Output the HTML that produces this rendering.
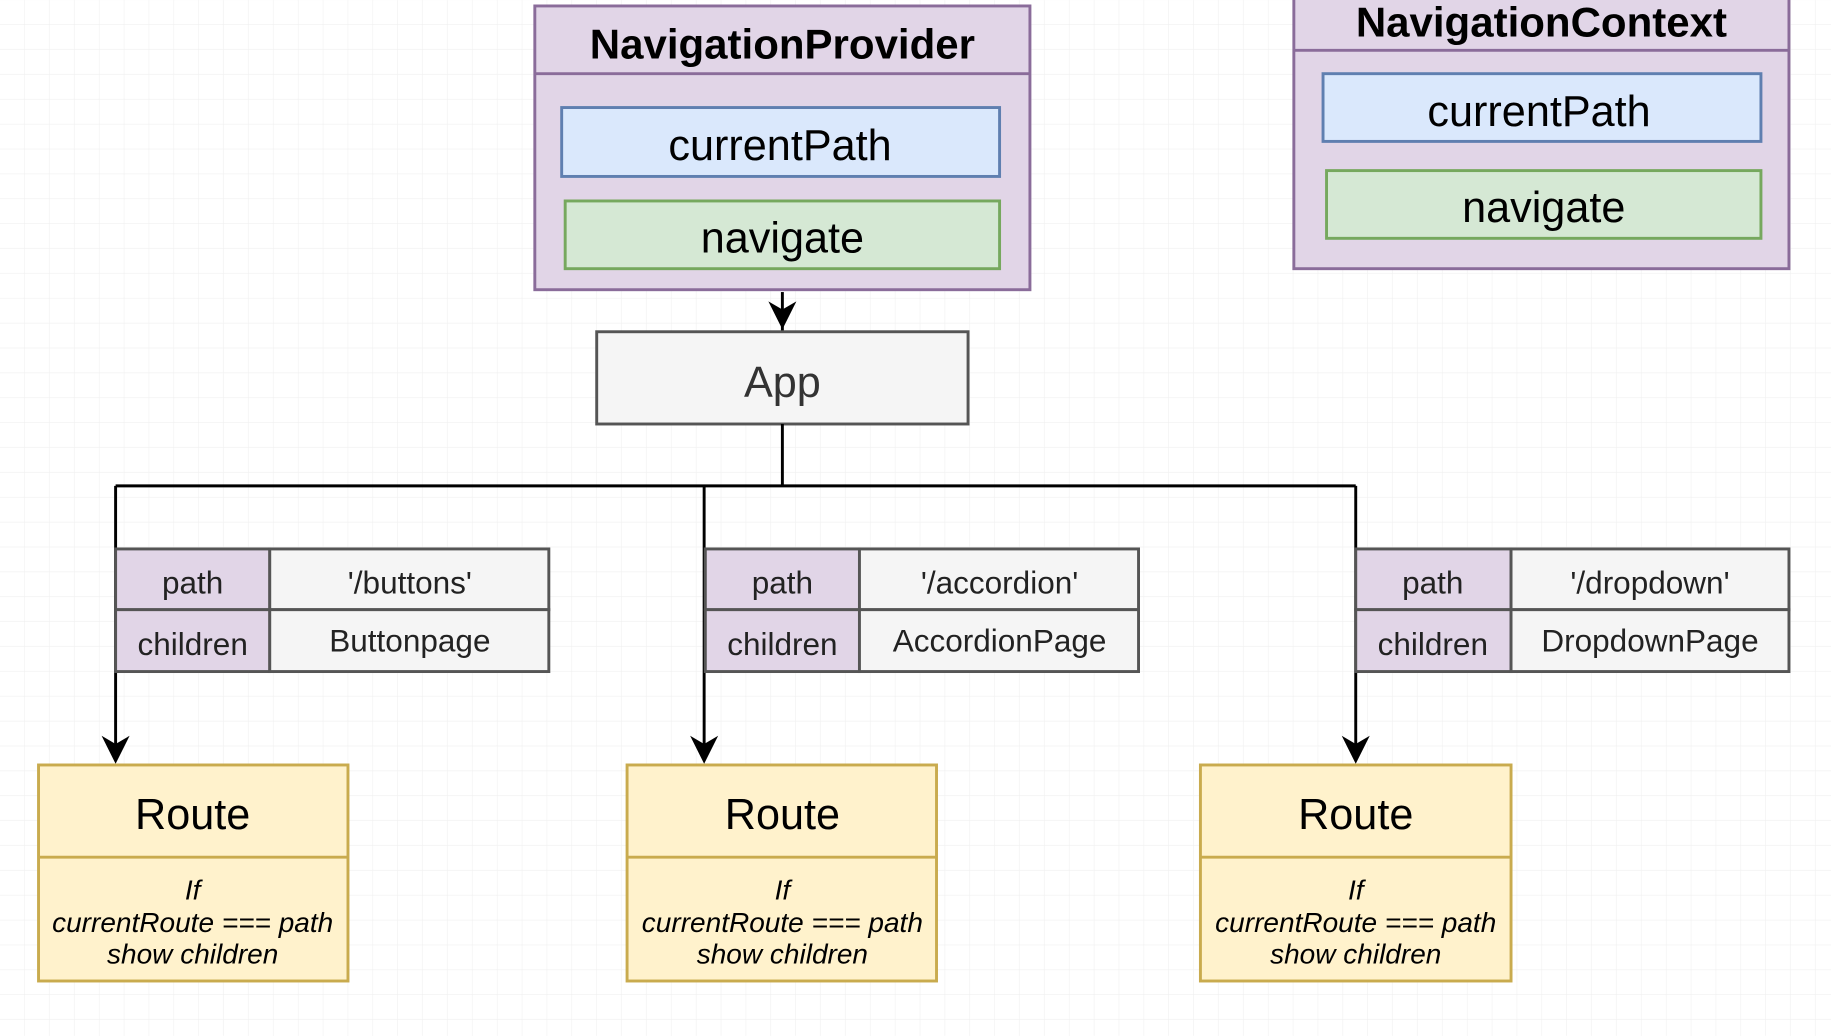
<!DOCTYPE html>
<html><head><meta charset="utf-8"><style>html,body{margin:0;padding:0;background:#fff}svg{display:block}</style></head><body>
<svg width="1831" height="1036" viewBox="0 0 1568 887" xmlns="http://www.w3.org/2000/svg" font-family="Liberation Sans, sans-serif">
<defs>
<pattern id="g" width="21.3" height="21.3" patternUnits="userSpaceOnUse"><path d="M21.3 0V21.3H0" fill="none" stroke="#f0f0f0" stroke-width="1"/></pattern>
</defs>
<rect width="1568" height="887" fill="url(#g)"/>
<g stroke-width="2.5">
<rect x="458" y="5" width="424" height="243" fill="#e1d5e7" stroke="#8a6c9a"/>
<line x1="458" y1="63" x2="882" y2="63" stroke="#8a6c9a"/>
<rect x="481" y="92" width="375" height="59" fill="#dae8fc" stroke="#5f7fb0"/>
<rect x="484" y="172" width="372" height="58" fill="#d5e8d4" stroke="#76a85e"/>
<rect x="1108" y="-5" width="424" height="235" fill="#e1d5e7" stroke="#8a6c9a"/>
<line x1="1108" y1="43" x2="1532" y2="43" stroke="#8a6c9a"/>
<rect x="1133" y="63" width="375" height="58" fill="#dae8fc" stroke="#5f7fb0"/>
<rect x="1136" y="146" width="372" height="58" fill="#d5e8d4" stroke="#76a85e"/>
<line x1="670" y1="250" x2="670" y2="301" stroke="#000"/>
<path d="M658 258L670 282L682 258L670 265z" fill="#000" stroke="none"/>
<rect x="511" y="284" width="318" height="79" fill="#f5f5f5" stroke="#555"/>
<path d="M670 363V416M99 416H1161M99 416V650M603 416V650M1161 416V650" fill="none" stroke="#000"/>
<path d="M87 630L99 654L111 630L99 637z M591 630L603 654L615 630L603 637z M1149 630L1161 654L1173 630L1161 637z" fill="#000" stroke="none"/>
<g stroke="#555">
<rect x="99" y="470" width="132" height="52" fill="#e1d5e7"/><rect x="231" y="470" width="239" height="52" fill="#f5f5f5"/>
<rect x="99" y="522" width="132" height="53" fill="#e1d5e7"/><rect x="231" y="522" width="239" height="53" fill="#f5f5f5"/>
<rect x="604" y="470" width="132" height="52" fill="#e1d5e7"/><rect x="736" y="470" width="239" height="52" fill="#f5f5f5"/>
<rect x="604" y="522" width="132" height="53" fill="#e1d5e7"/><rect x="736" y="522" width="239" height="53" fill="#f5f5f5"/>
<rect x="1161" y="470" width="133" height="52" fill="#e1d5e7"/><rect x="1294" y="470" width="238" height="52" fill="#f5f5f5"/>
<rect x="1161" y="522" width="133" height="53" fill="#e1d5e7"/><rect x="1294" y="522" width="238" height="53" fill="#f5f5f5"/>
</g>
<g fill="#fff2cc" stroke="#c9ab4e">
<rect x="33" y="655" width="265" height="185"/><line x1="33" y1="734" x2="298" y2="734"/>
<rect x="537" y="655" width="265" height="185"/><line x1="537" y1="734" x2="802" y2="734"/>
<rect x="1028" y="655" width="266" height="185"/><line x1="1028" y1="734" x2="1294" y2="734"/>
</g>
</g>
<g text-anchor="middle" fill="#000">
<text x="670" y="50" font-size="36" font-weight="bold">NavigationProvider</text>
<text x="668" y="137" font-size="37">currentPath</text>
<text x="670" y="216" font-size="37">navigate</text>
<text x="1320" y="31" font-size="36" font-weight="bold">NavigationContext</text>
<text x="1318" y="108" font-size="37">currentPath</text>
<text x="1322" y="190" font-size="37">navigate</text>
<text x="670" y="340" font-size="37" fill="#333">App</text>
<g font-size="27" fill="#222">
<text x="165" y="508">path</text><text x="351" y="508">'/buttons'</text>
<text x="165" y="561">children</text><text x="351" y="558">Buttonpage</text>
<text x="670" y="508">path</text><text x="856" y="508">'/accordion'</text>
<text x="670" y="561">children</text><text x="856" y="558">AccordionPage</text>
<text x="1227" y="508">path</text><text x="1413" y="508">'/dropdown'</text>
<text x="1227" y="561">children</text><text x="1413" y="558">DropdownPage</text>
</g>
<g font-size="37"><text x="165" y="710">Route</text><text x="670" y="710">Route</text><text x="1161" y="710">Route</text></g>
<g font-size="24" font-style="italic">
<text x="165" y="770">If</text><text x="165" y="798">currentRoute === path</text><text x="165" y="825">show children</text>
<text x="670" y="770">If</text><text x="670" y="798">currentRoute === path</text><text x="670" y="825">show children</text>
<text x="1161" y="770">If</text><text x="1161" y="798">currentRoute === path</text><text x="1161" y="825">show children</text>
</g>
</g>
</svg>
</body></html>
